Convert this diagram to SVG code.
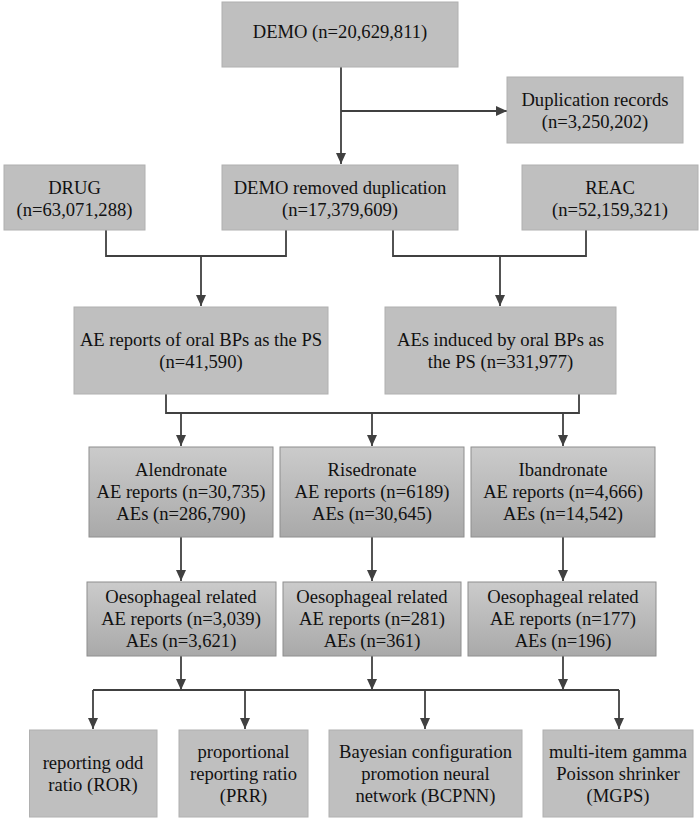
<svg xmlns="http://www.w3.org/2000/svg" width="699" height="821" viewBox="0 0 699 821">
<defs>
<linearGradient id="g" x1="0" y1="0" x2="0" y2="1">
<stop offset="0" stop-color="#cbcbcb"/>
<stop offset="1" stop-color="#a9a9a9"/>
</linearGradient>
<marker id="ah" markerUnits="userSpaceOnUse" markerWidth="12" markerHeight="12" viewBox="0 0 12 12" refX="11" refY="6" orient="auto">
<path d="M0,1 L11,6 L0,11 z" fill="#404040"/>
</marker>
</defs>
<style>
.b{fill:#bfbfbf;stroke:#b0b0b0;stroke-width:1}
.gb{fill:url(#g);stroke:#8e8e8e;stroke-width:1}
.c path{fill:none;stroke:#404040;stroke-width:1.8}
</style>
<rect width="699" height="821" fill="#ffffff"/>
<g class="c" id="connectors">
<path d="M341,67 V164" marker-end="url(#ah)"/>
<path d="M341,111 H507" marker-end="url(#ah)"/>
<path d="M106,230 V256 H286 V230"/>
<path d="M201,256 V306" marker-end="url(#ah)"/>
<path d="M393,230 V256 H586 V230"/>
<path d="M500,256 V306" marker-end="url(#ah)"/>
<path d="M166,394 V413 H579 V394"/>
<path d="M181,413 V446" marker-end="url(#ah)"/>
<path d="M372,413 V446" marker-end="url(#ah)"/>
<path d="M563,413 V446" marker-end="url(#ah)"/>
<path d="M181,537 V581" marker-end="url(#ah)"/>
<path d="M372,537 V581" marker-end="url(#ah)"/>
<path d="M563,537 V581" marker-end="url(#ah)"/>
<path d="M181,656 V690" marker-end="url(#ah)"/>
<path d="M372,656 V690" marker-end="url(#ah)"/>
<path d="M563,656 V690" marker-end="url(#ah)"/>
<path d="M93,690 H619"/>
<path d="M93,690 V729" marker-end="url(#ah)"/>
<path d="M245,690 V729" marker-end="url(#ah)"/>
<path d="M425,690 V729" marker-end="url(#ah)"/>
<path d="M619,690 V729" marker-end="url(#ah)"/>
</g>
<g id="nodes" font-family="Liberation Serif, Times New Roman, serif" font-size="18.6" fill="#111111" text-anchor="middle">
<g id="demo"><rect class="b" x="222" y="2" width="236" height="65"/><text x="340" y="38">DEMO (n=20,629,811)</text></g>
<g id="dup"><rect class="b" x="507" y="77" width="176" height="66"/><text x="595" y="105.5">Duplication records</text><text x="595" y="128">(n=3,250,202)</text></g>
<g id="drug"><rect class="b" x="4" y="165" width="141" height="65"/><text x="74.5" y="193.5">DRUG</text><text x="74.5" y="216">(n=63,071,288)</text></g>
<g id="demo-removed"><rect class="b" x="222" y="165" width="236" height="65"/><text x="340" y="193.5">DEMO removed duplication</text><text x="340" y="216">(n=17,379,609)</text></g>
<g id="reac"><rect class="b" x="522" y="165" width="176" height="65"/><text x="610" y="193.5">REAC</text><text x="610" y="216">(n=52,159,321)</text></g>
<g id="ae-reports"><rect class="b" x="74" y="307" width="254" height="87"/><text x="201" y="345.5">AE reports of oral BPs as the PS</text><text x="201" y="367.5">(n=41,590)</text></g>
<g id="aes-induced"><rect class="b" x="385" y="307" width="231" height="87"/><text x="500.5" y="345.5">AEs induced by oral BPs as</text><text x="500.5" y="367.5">the PS (n=331,977)</text></g>
<g id="alendronate"><rect class="gb" x="89" y="447" width="184" height="90"/><text x="181" y="476">Alendronate</text><text x="181" y="498">AE reports (n=30,735)</text><text x="181" y="520">AEs (n=286,790)</text></g>
<g id="risedronate"><rect class="gb" x="280" y="447" width="184" height="90"/><text x="372" y="476">Risedronate</text><text x="372" y="498">AE reports (n=6189)</text><text x="372" y="520">AEs (n=30,645)</text></g>
<g id="ibandronate"><rect class="gb" x="471" y="447" width="184" height="90"/><text x="563" y="476">Ibandronate</text><text x="563" y="498">AE reports (n=4,666)</text><text x="563" y="520">AEs (n=14,542)</text></g>
<g id="oes-1"><rect class="gb" x="87" y="582" width="189" height="74"/><text x="181" y="603">Oesophageal related</text><text x="181" y="625">AE reports (n=3,039)</text><text x="181" y="647">AEs (n=3,621)</text></g>
<g id="oes-2"><rect class="gb" x="283" y="582" width="178" height="74"/><text x="372" y="603">Oesophageal related</text><text x="372" y="625">AE reports (n=281)</text><text x="372" y="647">AEs (n=361)</text></g>
<g id="oes-3"><rect class="gb" x="468" y="582" width="188" height="74"/><text x="563" y="603">Oesophageal related</text><text x="563" y="625">AE reports (n=177)</text><text x="563" y="647">AEs (n=196)</text></g>
<g id="ror"><rect class="b" x="29.5" y="730" width="127.5" height="87"/><text x="93" y="768.5">reporting odd</text><text x="93" y="790.5">ratio (ROR)</text></g>
<g id="prr"><rect class="b" x="179" y="730" width="129" height="87"/><text x="243.5" y="758">proportional</text><text x="243.5" y="780">reporting ratio</text><text x="243.5" y="802">(PRR)</text></g>
<g id="bcpnn"><rect class="b" x="329" y="730" width="193" height="87"/><text x="425.5" y="758">Bayesian configuration</text><text x="425.5" y="780">promotion neural</text><text x="425.5" y="802">network (BCPNN)</text></g>
<g id="mgps"><rect class="b" x="543" y="730" width="150" height="87"/><text x="618" y="758">multi-item gamma</text><text x="618" y="780">Poisson shrinker</text><text x="618" y="802">(MGPS)</text></g>
</g>
</svg>
